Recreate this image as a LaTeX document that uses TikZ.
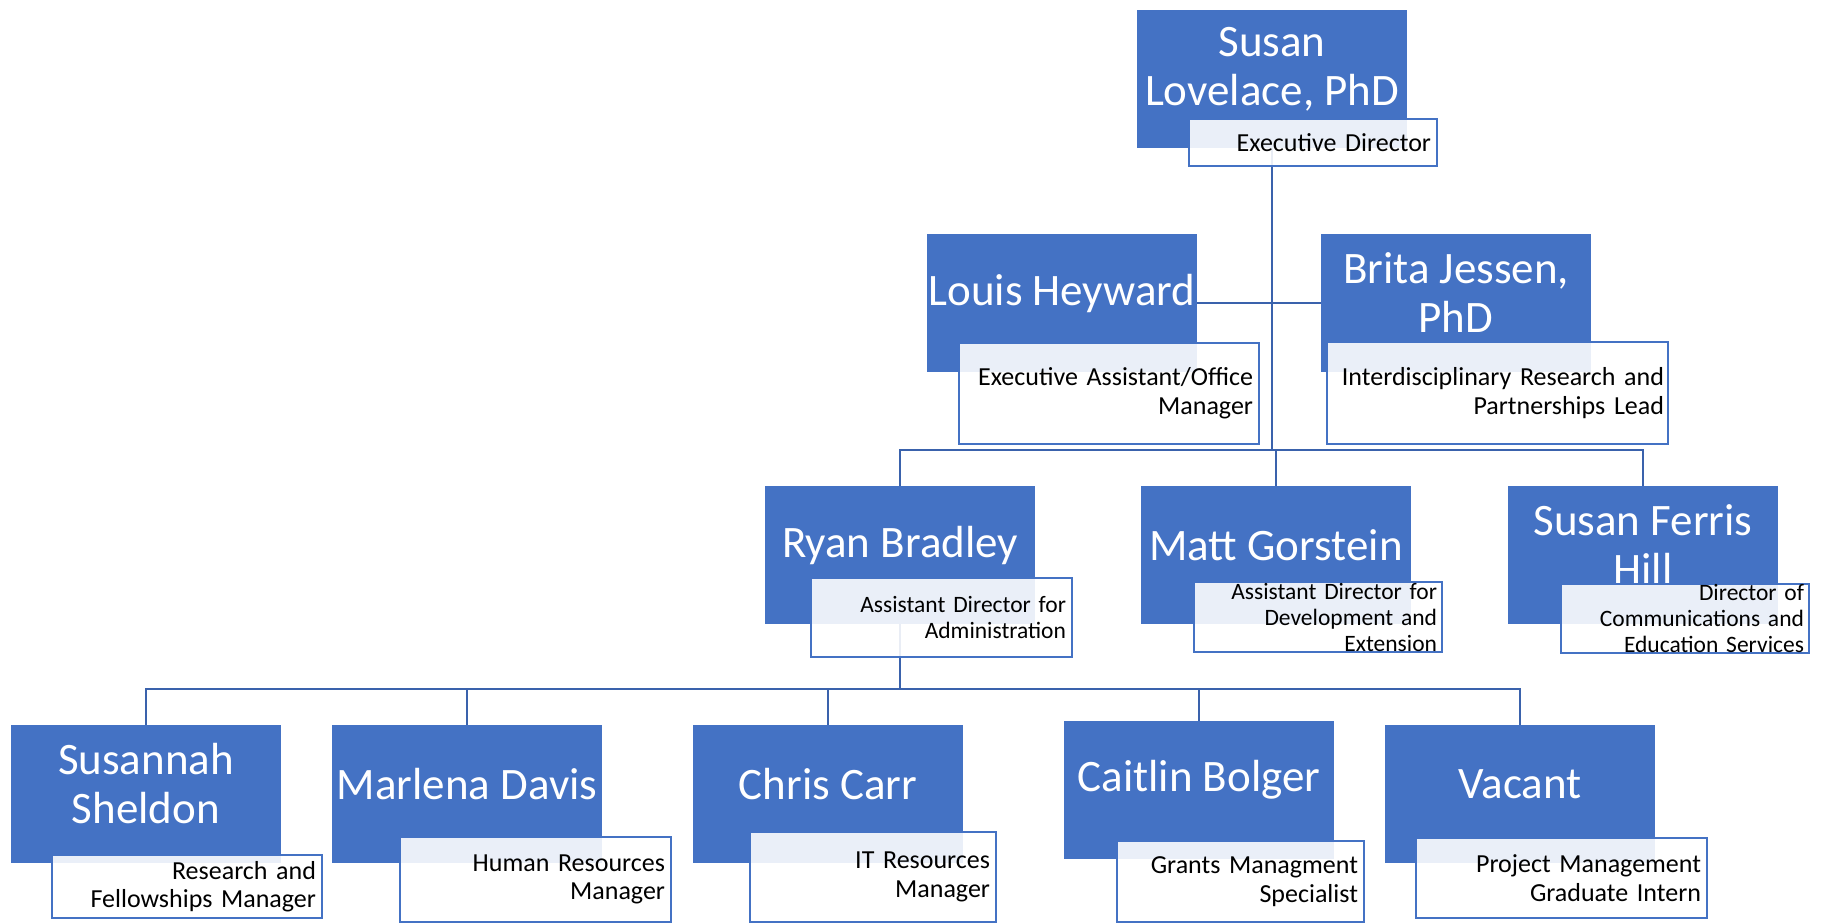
\documentclass[tikz,border=0pt]{standalone}
\usepackage{fontspec}
\setmainfont{Carlito}
\definecolor{boxblue}{HTML}{4472C4}
\definecolor{linkblue}{HTML}{3A62AC}
\begin{document}
\begin{tikzpicture}[x=1pt,y=-1pt,
	namebox/.style={fill=boxblue, minimum width=270, minimum height=138, inner sep=0pt},
	nametext/.style={text=white, font=\fontsize{45}{49}\selectfont, align=center, inner sep=0pt},
	rolebox/.style={draw=boxblue, line width=1.6pt, fill=white, fill opacity=0.89, text opacity=1, inner sep=0pt, align=right, font=\fontsize{26}{29}\selectfont},
	rolesmall/.style={rolebox, font=\fontsize{23.5}{26}\selectfont},
	rolelarge/.style={rolebox, font=\fontsize{26}{28.5}\selectfont},
	link/.style={draw=linkblue, line width=2.2pt}]
				\useasboundingbox (0,0) rectangle (1823,922);
				% name boxes
				\node[namebox] (susan) at (1272,79) {};
				\node[namebox] (louis) at (1062,303) {};
				\node[namebox] (brita) at (1456,303) {};
				\node[namebox] (ryan) at (900,555) {};
				\node[namebox] (matt) at (1276,555) {};
				\node[namebox] (ferris) at (1643,555) {};
				\node[namebox] (susannah) at (146,794) {};
				\node[namebox] (marlena) at (467,794) {};
				\node[namebox] (chris) at (828,794) {};
				\node[namebox] (caitlin) at (1199,790) {};
				\node[namebox] (vacant) at (1520,794) {};
				\node[nametext] (susanname) at ([yshift=10pt]susan.center) {Susan\\Lovelace, PhD};
				\node[nametext] (louisname) at ([yshift=10pt]louis.center) {Louis Heyward};
				\node[nametext] (britaname) at ([yshift=10pt]brita.center) {Brita Jessen,\\PhD};
				\node[nametext] (ryanname) at ([yshift=10pt]ryan.center) {Ryan Bradley};
				\node[nametext] (mattname) at ([yshift=10pt]matt.center) {Matt Gorstein};
				\node[nametext] (ferrisname) at ([yshift=10pt]ferris.center) {Susan Ferris\\Hill};
				\node[nametext] (susannahname) at ([yshift=10pt]susannah.center) {Susannah\\Sheldon};
				\node[nametext] (marlenaname) at ([yshift=10pt]marlena.center) {Marlena Davis};
				\node[nametext] (chrisname) at ([yshift=10pt]chris.center) {Chris Carr};
				\node[nametext] (caitlinname) at ([yshift=10pt]caitlin.center) {Caitlin Bolger};
				\node[nametext] (vacantname) at ([yshift=10pt]vacant.center) {Vacant};
				% connectors
				\coordinate (busA) at (0,450);
				\coordinate (busB) at (0,689);
				\draw[link] (susan.south) -- (susan.south |- busA);
				\draw[link] (louis.east) -- (brita.west);
				\draw[link] (ryan.north) |- (busA -| ferris.north) -- (ferris.north);
				\draw[link] (matt.north) -- (matt.north |- busA);
				\draw[link] (ryan.south) -- (ryan.south |- busB);
				\draw[link] (susannah.north) |- (busB -| vacant.north) -- (vacant.north);
				\draw[link] (marlena.north) -- (marlena.north |- busB);
				\draw[link] (chris.north) -- (chris.north |- busB);
				\draw[link] (caitlin.north) -- (caitlin.north |- busB);
				% role boxes
				\node[rolebox, minimum width=248, minimum height=47, text width=236pt] (susanrole) at (1313,142.5) {Executive Director};
				\node[rolebox, minimum width=300, minimum height=101, text width=288pt] (louisrole) at (1109,393.5) {Executive Assistant/Office\\Manager};
				\node[rolebox, minimum width=341, minimum height=102, text width=333pt] (britarole) at (1497.5,393) {Interdisciplinary Research and\\Partnerships Lead};
				\node[rolesmall, minimum width=261, minimum height=79, text width=249pt] (ryanrole) at (941.5,617.5) {Assistant Director for\\Administration};
				\node[rolesmall, minimum width=248, minimum height=70, text width=238pt] (mattrole) at (1318,617) {Assistant Director for\\Development and\\Extension};
				\node[rolesmall, minimum width=248, minimum height=69, text width=238pt] (ferrisrole) at (1685,618.5) {Director of\\Communications and\\Education Services};
				\node[rolelarge, minimum width=270, minimum height=63, text width=258pt] (susannahrole) at (187,886.5) {Research and\\Fellowships Manager};
				\node[rolelarge, minimum width=271, minimum height=85, text width=259pt] (marlenarole) at (535.5,879.5) {Human Resources\\Manager};
				\node[rolelarge, minimum width=246, minimum height=90, text width=234pt] (chrisrole) at (873,877) {IT Resources\\Manager};
				\node[rolelarge, minimum width=247, minimum height=81, text width=235pt] (caitlinrole) at (1240.5,881.5) {Grants Managment\\Specialist};
				\node[rolelarge, minimum width=291, minimum height=80, text width=279pt] (vacantrole) at (1561.5,878) {Project Management\\Graduate Intern};
			\end{tikzpicture}
\end{document}
